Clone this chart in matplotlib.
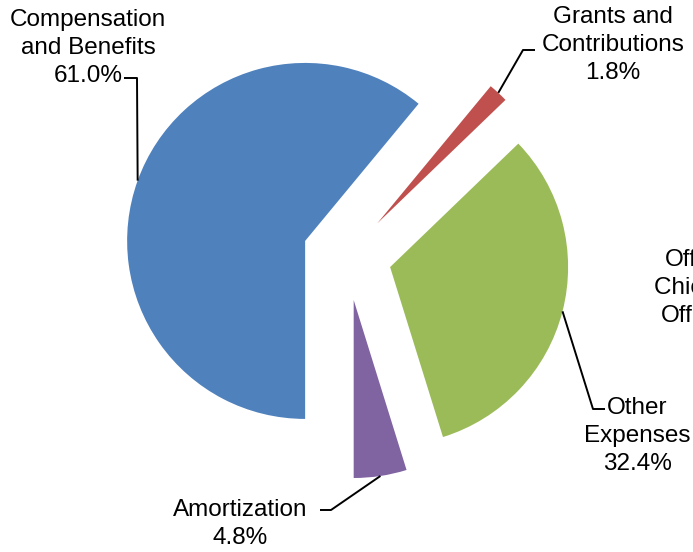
import numpy as np
import matplotlib.pyplot as plt

# Données du graphique
categories = ["Compensation\nand Benefits", "Grants and\nContributions", "Other\nExpenses", "Amortization"]
valeurs = [61.0, 1.8, 32.4, 4.8]
couleurs = ["#4F81BD", "#C0504D", "#9BBB59", "#8064A2"]
etiquette_coupee = "Office\nChief IT\nOfficer"

W, H = 693, 552
plt.rcParams["font.family"] = ["Liberation Sans", "DejaVu Sans"]

fig = plt.figure(figsize=(W / 100, H / 100), dpi=100)
ax = fig.add_axes([0, 0, 1, 1])

# Camembert éclaté (coordonnées en pixels, y vers le haut)
rayon = 178
wedges, _ = ax.pie(
    valeurs,
    colors=couleurs,
    startangle=270,
    counterclock=False,
    explode=[0.25 * rayon] * len(valeurs),
    center=(347, H - 256),
    radius=rayon,
)
ax.set_xlim(0, W)
ax.set_ylim(0, H)
ax.set_aspect("equal")
ax.axis("off")

# Position des textes et des coudes des lignes de rappel (pixels image)
textes = [(88, 48), (613, 45), (637, 436), (240, 524)]
coudes = [[(137, 78), (124, 78)], [(523, 50), (535, 50)],
          [(593, 409), (605, 409)], [(331, 510), (320, 510)]]

for w, cat, val, (tx, ty), coude in zip(wedges, categories, valeurs, textes, coudes):
    a = np.deg2rad((w.theta1 + w.theta2) / 2)
    cx, cy = w.center
    x0, y0 = cx + w.r * np.cos(a), cy + w.r * np.sin(a)
    xs = [x0] + [p[0] for p in coude]
    ys = [y0] + [H - p[1] for p in coude]
    ax.plot(xs, ys, color="black", lw=1.4, solid_capstyle="butt")
    ax.text(tx, H - ty, f"{cat}\n{val:.1f}%", ha="center", va="center",
            multialignment="center", fontsize=17.5, linespacing=1.35)

ax.text(696, H - 288, etiquette_coupee, ha="center", va="center",
        multialignment="center", fontsize=17.5, linespacing=1.35, clip_on=False)

fig.savefig("out.png", dpi=100)
